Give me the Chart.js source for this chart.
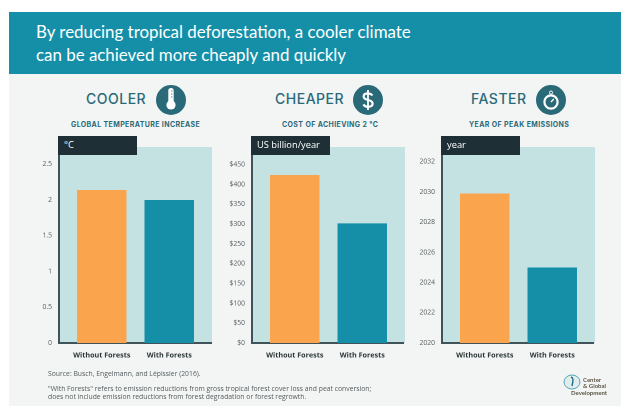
<!DOCTYPE html>
<html>
<head>
<meta charset="utf-8">
<script src="https://cdn.jsdelivr.net/npm/chart.js@4"></script>
<style>
html, body { margin: 0; padding: 0; background: #fff; }
#page { position: relative; width: 630px; height: 415px; overflow: hidden; font-family: "Open Sans", sans-serif; }
#panel { position: absolute; left: 9px; top: 74px; width: 612px; height: 332px; background: #f3f5f5; }
#head { position: absolute; left: 9px; top: 12px; width: 612px; height: 62px; background: #158fa8; }
#head div { position: absolute; left: 27px; top: 8px; color: #fff; font: 16.9px/23px Lato, sans-serif; white-space: nowrap; }
.word { position: absolute; top: 90px; color: #2a6a78; font-family: Inter, sans-serif; font-size: 14px; line-height: 18px; font-weight: 500; letter-spacing: 0.5px; white-space: nowrap; }
.sub { position: absolute; top: 119.5px; color: #2a6a78; font-family: Inter, sans-serif; font-size: 7px; line-height: 10px; font-weight: 700; letter-spacing: 0.38px; white-space: nowrap; }
.icon { position: absolute; top: 84.5px; width: 30px; height: 30px; }
.pale { position: absolute; top: 147px; width: 153px; height: 196px; background: #c5e2e2; }
.tab { position: absolute; top: 136px; height: 19px; background: #1e3035; color: #fff; font-size: 9.3px; line-height: 18px; padding-left: 6px; box-sizing: border-box; white-space: nowrap; }
.axis { position: absolute; background: #3f5359; }
canvas { position: absolute; top: 130px; }
.note { position: absolute; left: 48px; color: #555c5e; font-size: 6.82px; line-height: 7.5px; white-space: nowrap; }
#logo { position: absolute; left: 563px; top: 373px; width: 20px; height: 18px; }
#logotext { position: absolute; left: 571px; top: 377px; width: 44px; color: #5c5647; font: 700 6px/6.3px Lato, sans-serif; white-space: nowrap; }
#logotext span { margin-left: 12px; }
</style>
</head>
<body>
<div id="page">
  <div id="panel"></div>
  <div id="head"><div>By reducing tropical deforestation, a cooler climate<br>can be achieved more cheaply and quickly</div></div>

  <div class="word" style="left:86px">COOLER</div>
  <svg class="icon" style="left:156px" viewBox="0 0 30 30">
    <circle cx="15" cy="15" r="15" fill="#2a6a78"/>
    <rect x="12.3" y="3" width="5.4" height="16" rx="2.7" fill="#fff"/>
    <circle cx="15" cy="20" r="4.6" fill="#fff"/>
    <path d="M15 6h1.5M15 9h1.5M15 12h1.5" stroke="#2a6a78" stroke-width="0.8"/>
  </svg>
  <div class="sub" style="left:71px">GLOBAL TEMPERATURE INCREASE</div>

  <div class="word" style="left:275px">CHEAPER</div>
  <svg class="icon" style="left:353px" viewBox="0 0 30 30">
    <circle cx="15" cy="15" r="15" fill="#2a6a78"/>
    <path d="M19.5 10.5c-1-1.6-2.6-2.2-4.5-2.2-2.5 0-4.4 1.2-4.4 3.3 0 4.6 9 2.3 9 6.9 0 2.1-2 3.3-4.6 3.3-2 0-3.7-.8-4.6-2.4" fill="none" stroke="#fff" stroke-width="2.2"/>
    <path d="M15 5v20" stroke="#fff" stroke-width="1.8"/>
  </svg>
  <div class="sub" style="left:282px">COST OF ACHIEVING 2 °C</div>

  <div class="word" style="left:471px">FASTER</div>
  <svg class="icon" style="left:536px" viewBox="0 0 30 30">
    <circle cx="15" cy="15" r="15" fill="#2a6a78"/>
    <circle cx="15" cy="17" r="6.6" fill="none" stroke="#fff" stroke-width="2.2"/>
    <circle cx="15" cy="7.6" r="1.6" fill="none" stroke="#fff" stroke-width="1"/>
    <path d="M15 17l2.8-3" stroke="#fff" stroke-width="1.3"/>
  </svg>
  <div class="sub" style="left:469px">YEAR OF PEAK EMISSIONS</div>

  <div class="pale" style="left:59px"></div>
  <div class="pale" style="left:252px"></div>
  <div class="pale" style="left:442px"></div>

  <div class="axis" style="left:58px;top:136px;width:2px;height:208px"></div>
  <div class="axis" style="left:58px;top:342px;width:154px;height:2px"></div>
  <div class="axis" style="left:251px;top:136px;width:2px;height:208px"></div>
  <div class="axis" style="left:251px;top:342px;width:153px;height:2px"></div>
  <div class="axis" style="left:441px;top:136px;width:2px;height:208px"></div>
  <div class="axis" style="left:441px;top:342px;width:153px;height:2px"></div>

  <canvas id="chart1"></canvas>
  <canvas id="chart2"></canvas>
  <canvas id="chart3"></canvas>

  <div class="tab" style="left:58px;width:79px">°C</div>
  <div class="tab" style="left:251px;width:79px">US billion/year</div>
  <div class="tab" style="left:441px;width:79px">year</div>

  <div class="note" style="top:370px">Source: Busch, Engelmann, and Lépissier (2016).</div>
  <div class="note" style="top:385px">"With Forests" refers to emission reductions from gross tropical forest cover loss and peat conversion;<br>does not include emission reductions from forest degradation or forest regrowth.</div>

  <svg id="logo" viewBox="0 0 20 18">
    <ellipse cx="9" cy="9" rx="8" ry="7" fill="#e3ecec" stroke="#3f9bb0" stroke-width="0.9"/>
    <path d="M8 4c3 1 2 4 1 9" fill="none" stroke="#1f6f85" stroke-width="1.4"/>
  </svg>
  <div id="logotext"><span>Center</span><br><span>&amp; Global</span><br>Development</div>
</div>

<script>
const categories = ["Without Forests", "With Forests"];

const tempValues = [2.14, 2.0];
const costValues = [424, 302];
const yearValues = [2029.9, 2025];

const tempTicks = [0, 0.5, 1, 1.5, 2, 2.5];
const costTicks = [0, 50, 100, 150, 200, 250, 300, 350, 400, 450];
const yearTicks = [2020, 2022, 2024, 2026, 2028, 2030, 2032];

const barColors = ["#fba44e", "#158fa8"];
const tickFont = "Open Sans";

function makeChart(id, left, values, ticks, min, max, fmt) {
    const canvas = document.getElementById(id);
    canvas.style.left = left + "px";

    new Chart(canvas, {
        type: "bar",
        data: {
            labels: categories,
            datasets: [{
                data: values,
                backgroundColor: barColors,
                borderWidth: 0,
                barPercentage: 0.733,
                categoryPercentage: 1
            }]
        },
        options: {
            responsive: false,
            animation: false,
            devicePixelRatio: 2,
            layout: { padding: 0 },
            plugins: { legend: { display: false }, tooltip: { enabled: false } },
            scales: {
                x: {
                    grid: { display: false },
                    border: { display: false },
                    ticks: {
                        color: "#2b3436",
                        font: { family: tickFont, size: 7.2, weight: "700" },
                        padding: 0,
                        maxRotation: 0,
                        autoSkip: false
                    },
                    afterFit: function(axis) { axis.height = 39; }
                },
                y: {
                    min: min,
                    max: max,
                    grid: { display: false },
                    border: { display: false },
                    afterBuildTicks: function(axis) {
                        axis.ticks = ticks.map(function(v) { return { value: v }; });
                    },
                    ticks: {
                        color: "#555c5e",
                        font: { family: tickFont, size: 6.8 },
                        padding: 8,
                        autoSkip: false,
                        callback: fmt
                    },
                    afterFit: function(axis) { axis.width = 50; }
                }
            }
        }
    });
}

function setSize(id, w) {
    const c = document.getElementById(id);
    c.width = w;
    c.height = 252;
    c.style.width = w + "px";
    c.style.height = "252px";
}

["chart1", "chart2", "chart3"].forEach(function(id) { setSize(id, 185); });

makeChart("chart1", 18, tempValues, tempTicks, 0, 2.81, function(v) { return String(v); });
makeChart("chart2", 211, costValues, costTicks, 0, 507, function(v) { return "$" + v; });
makeChart("chart3", 401, yearValues, yearTicks, 2020, 2033.3, function(v) { return String(v); });
</script>
</body>
</html>
